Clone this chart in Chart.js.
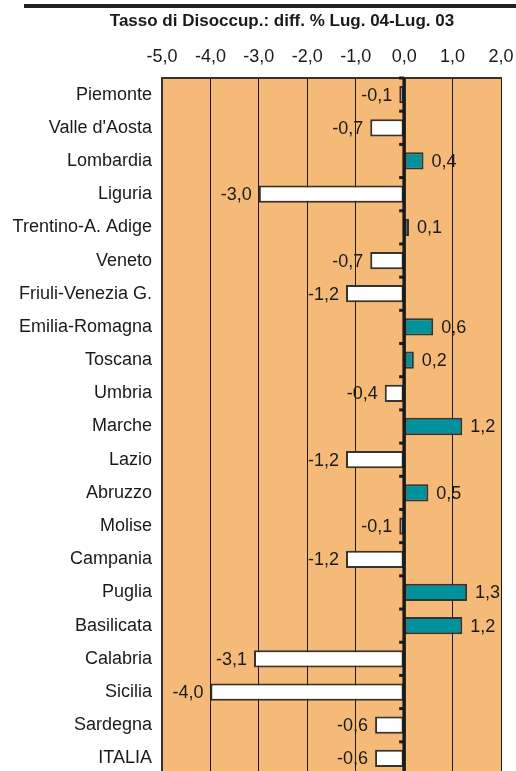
<!DOCTYPE html>
<html><head><meta charset="utf-8">
<script src="https://cdn.jsdelivr.net/npm/chart.js@4/dist/chart.umd.min.js"></script>
<style>
html,body{margin:0;padding:0;background:#fff;overflow:hidden;}
#wrap{position:absolute;left:0;top:0;width:516px;height:776px;}
</style></head>
<body>
<div id="wrap"><canvas id="c" width="516" height="776"></canvas></div>
<script>
const categories = ["Piemonte","Valle d'Aosta","Lombardia","Liguria","Trentino-A. Adige","Veneto","Friuli-Venezia G.","Emilia-Romagna","Toscana","Umbria","Marche","Lazio","Abruzzo","Molise","Campania","Puglia","Basilicata","Calabria","Sicilia","Sardegna","ITALIA"];
const values = [-0.1,-0.7,0.4,-3.0,0.1,-0.7,-1.2,0.6,0.2,-0.4,1.2,-1.2,0.5,-0.1,-1.2,1.3,1.2,-3.1,-4.0,-0.6,-0.6];
const tickValues = [-5,-4,-3,-2,-1,0,1,2];
const titleText = "Tasso di Disoccup.: diff. % Lug. 04-Lug. 03";

const FONT = "'Liberation Sans', Arial, sans-serif";
const fmt = v => v.toFixed(1).replace('.', ',');

const decor = {
  id: 'decor',
  beforeDraw(chart) {
    const {ctx, chartArea: a} = chart;
    ctx.save();
    ctx.fillStyle = '#F5BA78';
    ctx.fillRect(a.left, a.top, a.right - a.left, a.bottom - a.top);
    ctx.fillStyle = '#222';
    ctx.fillRect(24, 4, 492, 4);
    ctx.fillStyle = '#1a1a1a';
    ctx.font = "bold 17px " + FONT;
    ctx.textAlign = 'center';
    ctx.textBaseline = 'middle';
    ctx.fillText(titleText, 282, 21);
    ctx.restore();
  },
  afterDatasetsDraw(chart) {
    const {ctx} = chart;
    const xs = chart.scales.x, ys = chart.scales.y;
    const x0 = xs.getPixelForValue(0);
    ctx.save();
    ctx.strokeStyle = '#1a1a1a';
    ctx.lineWidth = 3.5;
    ctx.beginPath();
    ctx.moveTo(x0, chart.chartArea.top);
    ctx.lineTo(x0, chart.chartArea.bottom);
    ctx.stroke();
    ctx.fillStyle = '#1a1a1a';
    for (let i = 0; i <= categories.length; i++) {
      const y = ys.getPixelForValue(i - 0.5);
      ctx.fillRect(x0 - 5, y - 1.5, 5, 3);
    }
    ctx.font = "18px " + FONT;
    ctx.fillStyle = '#1a1a1a';
    ctx.textBaseline = 'middle';
    values.forEach((v, i) => {
      const xe = xs.getPixelForValue(v);
      const y = ys.getPixelForValue(i);
      if (v < 0) { ctx.textAlign = 'right'; ctx.fillText(fmt(v), xe - 7, y + 1); }
      else { ctx.textAlign = 'left'; ctx.fillText(fmt(v), xe + 8, y + 1); }
    });
    ctx.restore();
  }
};

new Chart(document.getElementById('c'), {
  type: 'bar',
  data: {
    labels: categories,
    datasets: [{
      data: values,
      backgroundColor: values.map(v => v >= 0 ? '#00929C' : '#FFFFFF'),
      borderColor: '#333333',
      borderWidth: 2,
      borderSkipped: false,
      barPercentage: 0.52,
      categoryPercentage: 1
    }]
  },
  options: {
    indexAxis: 'y',
    responsive: false,
    animation: false,
    layout: {padding: {left: 0, right: 15, top: 0, bottom: 1}},
    plugins: {legend: {display: false}, tooltip: {enabled: false}, title: {display: false}},
    scales: {
      x: {
        position: 'top',
        min: -5, max: 2,
        afterBuildTicks: s => { s.ticks = tickValues.map(v => ({value: v})); },
        afterFit: s => { s.height = 78; s.paddingLeft = 0; s.paddingRight = 0; },
        ticks: {
          color: '#1a1a1a',
          font: {family: FONT, size: 18},
          padding: 10,
          callback: v => fmt(v)
        },
        grid: {color: '#1a1a1a', lineWidth: 1, drawTicks: false},
        border: {display: true, color: '#333', width: 2}
      },
      y: {
        afterFit: s => { s.width = 162; s.paddingTop = 0; s.paddingBottom = 0; },
        ticks: {
          color: '#1a1a1a',
          font: {family: FONT, size: 18},
          padding: 10
        },
        grid: {display: false, drawTicks: false},
        border: {display: true, color: '#333', width: 2}
      }
    }
  },
  plugins: [decor]
});
</script>
</body></html>
